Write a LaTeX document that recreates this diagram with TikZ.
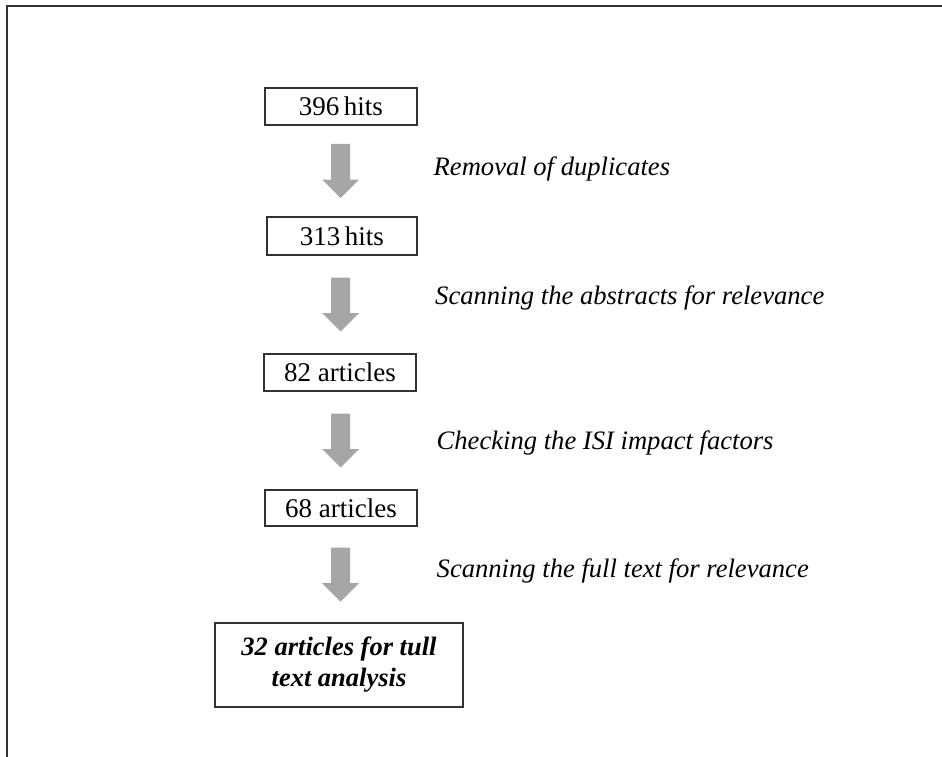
\documentclass[tikz,border=0pt]{standalone}
\usepackage{fontspec}
\setmainfont{Liberation Serif}
\usetikzlibrary{calc}
\definecolor{arrowgray}{RGB}{166,166,166}
\definecolor{framegray}{RGB}{50,50,50}
\tikzset{
  countbox/.style={draw=framegray, line width=1.2pt, minimum width=152pt, minimum height=37pt,
    inner sep=0pt, font=\fontsize{27}{31}\selectfont},
  finalbox/.style={draw=framegray, line width=1.2pt, minimum width=248pt, minimum height=84pt,
    inner sep=0pt, align=center, font=\fontsize{26.5}{31}\selectfont\bfseries\itshape},
  fatarrow/.pic={
    \fill[arrowgray] (-9.5,-27) -- (9.5,-27) -- (9.5,8.5) -- (18.5,8.5) -- (0,27)
      -- (-18.5,8.5) -- (-9.5,8.5) -- cycle;
  },
  steplabel/.style={anchor=base west, inner sep=0pt, font=\fontsize{26.6}{31}\selectfont\itshape},
}
\begin{document}
\begin{tikzpicture}[x=1pt,y=-1pt]
\useasboundingbox (0,0) rectangle (942,757);
% frame
\coordinate (fl) at (7,757);
\coordinate (fc) at (7,6);
\coordinate (fr) at (942,6);
\draw[framegray, line width=1.6pt] (fl) -- (fc) -- (fr);
% boxes
\node[countbox] (b1) at (341,106.5) {396\,hits};
\node[countbox, minimum width=150pt, minimum height=38pt] (b2) at (342,236) {313\,hits};
\node[countbox] (b3) at (340,372.5) {82 articles};
\node[countbox, minimum height=36pt] (b4) at (341,508) {68 articles};
\node[finalbox] (b5) at (339,665) {32 articles for tull\\text analysis};
% arrows
\coordinate (ax) at (340.5,0);
\coordinate (m1) at ($(b1.south)!0.5!(b2.north)$);
\coordinate (m2) at ($(b2.south)!0.5!(b3.north)$);
\coordinate (m3) at ($(b3.south)!0.5!(b4.north)$);
\coordinate (m4) at ($(b4.south)!0.5!(b5.north)$);
\pic at (ax |- m1) {fatarrow};
\pic at (ax |- m2) {fatarrow};
\pic at (ax |- m3) {fatarrow};
\pic at (ax |- m4) {fatarrow};
% labels
\node[steplabel] (l1) at (433.5,175.5) {Removal of duplicates};
\node[steplabel] (l2) at (435,304) {Scanning the abstracts for relevance};
\node[steplabel] (l3) at (436.5,449) {Checking the ISI impact factors};
\node[steplabel] (l4) at (436.5,577) {Scanning the full text for relevance};
\end{tikzpicture}
\end{document}
